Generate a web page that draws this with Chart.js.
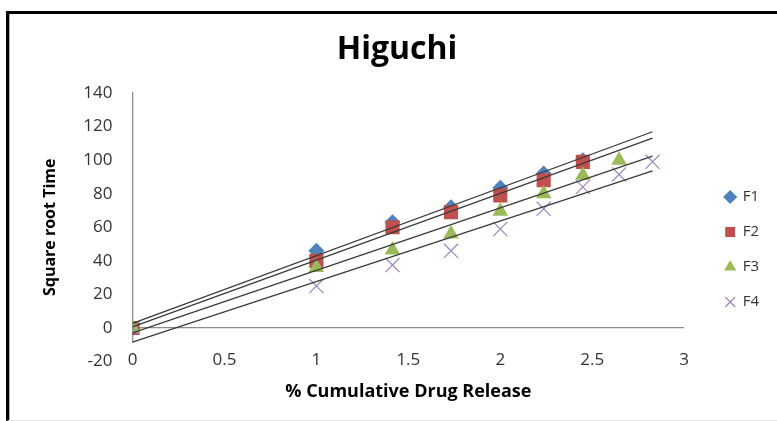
<!DOCTYPE html>
<html>
<head>
<meta charset="utf-8">
<script src="https://cdn.jsdelivr.net/npm/chart.js@4.4.1/dist/chart.umd.min.js"></script>
<style>
  body { margin: 0; background: #fff; }
  #wrap { position: absolute; left: 0; top: 0; width: 777px; height: 421px; }
  #frame {
    position: absolute; left: 6px; top: 11px; width: 780px; height: 406px;
    border-top: 3px solid #000; border-left: 3px solid #000; border-bottom: 1px solid #e6e6e6;
    box-shadow: inset 1px 0 0 #b0b0b0; pointer-events: none;
  }
</style>
</head>
<body>
<div id="wrap"><canvas id="chart" width="777" height="421"></canvas></div>
<div id="frame"></div>
<script>
// sqrt time on x (shared by all series)
const sqrtTime = [0, 1, 1.414, 1.732, 2, 2.236, 2.449, 2.646, 2.828];
const seriesNames = ["F1", "F2", "F3", "F4"];
const f1 = [0, 46, 63, 72, 83.5, 92, 100];
const f2 = [0, 40, 60, 69, 79, 88, 99];
const f3 = [0, 36, 46.5, 56, 69.5, 80, 91, 100];
const f4 = [0, 25, 37.5, 46, 59, 71, 84, 91.5, 99];
const xTicks = [0, 0.5, 1, 1.5, 2, 2.5, 3];
const yTicks = [-20, 0, 20, 40, 60, 80, 100, 120, 140];
const trendRange = [0, 2.828];

const colors = ["#4F81BD", "#C0504D", "#9BBB59", "#9C86BE"];
const styles = ["rectRot", "rect", "triangle", "crossRot"];
const radii = [8, 10, 9, 10];

// pair values with x
function toPoints(vals) {
  return vals.map((v, i) => ({ x: sqrtTime[i], y: v }));
}

// linear trend line (least squares) like excel
function trend(vals) {
  const xs = sqrtTime.slice(0, vals.length);
  const n = vals.length;
  const mx = xs.reduce((a, b) => a + b, 0) / n;
  const my = vals.reduce((a, b) => a + b, 0) / n;
  let sxy = 0, sxx = 0;
  xs.forEach((x, i) => {
    sxy += (x - mx) * (vals[i] - my);
    sxx += (x - mx) * (x - mx);
  });
  const m = sxy / sxx;
  const b = my - m * mx;
  return trendRange.map((x) => ({ x: x, y: m * x + b }));
}

const allSeries = [f1, f2, f3, f4];
const datasets = [];
allSeries.forEach((vals, i) => {
  datasets.push({
    label: seriesNames[i],
    data: toPoints(vals),
    showLine: false,
    pointStyle: styles[i],
    pointRadius: radii[i],
    pointHoverRadius: radii[i],
    backgroundColor: colors[i],
    borderColor: colors[i],
    borderWidth: i === 3 ? 1.2 : 0,
    order: 4 - i + 1,
  });
});
allSeries.forEach((vals, i) => {
  datasets.push({
    label: "trend" + (i + 1),
    data: trend(vals),
    showLine: true,
    pointRadius: 0,
    borderColor: "#3a3a3a",
    borderWidth: 1.3,
    order: 0,
  });
});

// only the zero line is shown (excel axis crossing at 0)
const zeroLine = (ctx) => (ctx.tick && ctx.tick.value === 0 ? "#8c8c8c" : "rgba(0,0,0,0)");

const chart = new Chart(document.getElementById("chart").getContext("2d"), {
  type: "scatter",
  data: { datasets: datasets },
  options: {
    responsive: false,
    animation: false,
    layout: { padding: { left: 25, right: 8, top: 0, bottom: 0 } },
    plugins: {
      title: {
        display: true,
        text: "Higuchi",
        color: "#000",
        font: { family: "Open Sans", size: 32, weight: "bold" },
        padding: { top: 31, bottom: 23.6 },
      },
      legend: {
        position: "right",
        title: { display: true, text: "", font: { size: 10 }, padding: { top: 66, bottom: 0 } },
        labels: {
          usePointStyle: true,
          boxWidth: 10,
          boxHeight: 10,
          padding: 20,
          color: "#333",
          font: { family: "Open Sans", size: 15 },
          filter: (item) => item.datasetIndex < 4,
          sort: (a, b) => a.datasetIndex - b.datasetIndex,
        },
      },
      tooltip: { enabled: false },
    },
    scales: {
      x: {
        type: "linear",
        min: 0,
        max: 3,
        afterBuildTicks: (scale) => { scale.ticks = xTicks.map((v) => ({ value: v })); },
        afterFit: (scale) => { scale.height = 59.4; },
        grid: { display: false, drawTicks: false },
        border: { display: false },
        ticks: {
          mirror: true,
          padding: -8.6,
          autoSkip: false,
          maxRotation: 0,
          color: "#333",
          font: { family: "Open Sans", size: 17 },
          callback: (v) => String(v),
          showLabelBackdrop: true,
          backdropColor: "#fff",
          backdropPadding: { top: 7, bottom: 0, left: 2, right: 2 },
        },
        title: {
          display: true,
          text: "% Cumulative Drug Release",
          color: "#000",
          font: { family: "Open Sans", size: 18, weight: "bold" },
          padding: { top: 0, bottom: 18 },
        },
      },
      y: {
        type: "linear",
        min: -20,
        max: 140,
        afterBuildTicks: (scale) => { scale.ticks = yTicks.map((v) => ({ value: v })); },
        afterFit: (scale) => { scale.width = 107.5; },
        grid: { color: zeroLine, drawTicks: false, lineWidth: 1.3 },
        border: { display: true, color: "#8c8c8c", width: 1.3, z: -1 },
        ticks: {
          padding: 20,
          autoSkip: false,
          color: "#333",
          font: { family: "Open Sans", size: 17 },
        },
        title: {
          display: true,
          text: "Square root Time",
          color: "#000",
          font: { family: "Open Sans", size: 16, weight: "bold" },
          padding: { top: 15.4, bottom: 0 },
        },
      },
      // spacer between plot and legend
      gap: {
        type: "linear",
        position: "right",
        display: true,
        afterFit: (scale) => { scale.width = 21; },
        grid: { display: false },
        border: { display: false },
        ticks: { display: false },
      },
    },
  },
});
</script>
</body>
</html>
